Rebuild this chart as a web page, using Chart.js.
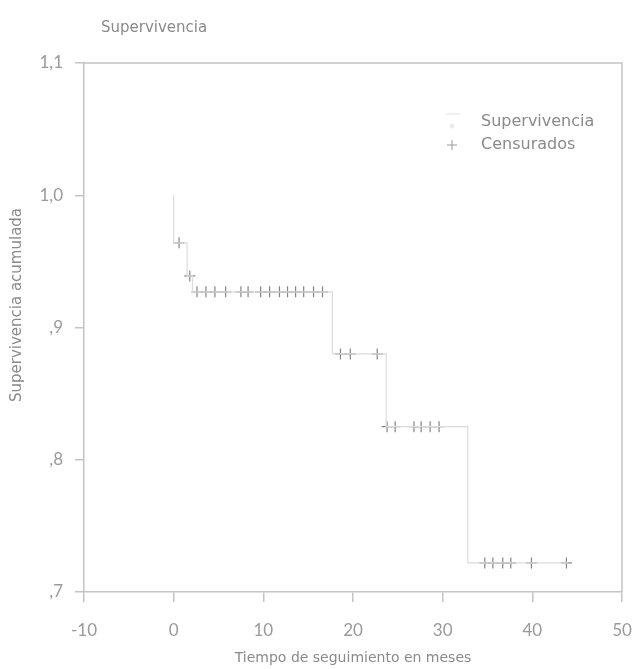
<!DOCTYPE html>
<html>
<head>
<meta charset="utf-8">
<script src="https://cdn.jsdelivr.net/npm/chart.js@4"></script>
<style>
  html, body { margin: 0; padding: 0; background: #fff; }
  #wrap { width: 634px; height: 669px; }
</style>
</head>
<body>
<div id="wrap"><canvas id="kmChart"></canvas></div>
<script>
// survival curve (step points)
const survTimes = [0, 0, 1.5, 2.1, 17.7, 23.7, 32.8, 44];
const survValues = [1.0, 0.964, 0.939, 0.927, 0.880, 0.825, 0.722, 0.722];

// censored cases
const censorTimes = [0.6, 1.8, 2.6, 3.6, 4.6, 5.8, 7.5, 8.3, 9.7, 10.7, 11.8, 12.7, 13.6, 14.5, 15.6, 16.6,
    18.6, 19.7, 22.7, 23.8, 24.7, 26.8, 27.6, 28.6, 29.6, 34.7, 35.6, 36.7, 37.6, 39.9, 43.8];
const censorValues = [0.964, 0.939, 0.927, 0.927, 0.927, 0.927, 0.927, 0.927, 0.927, 0.927, 0.927, 0.927, 0.927, 0.927, 0.927, 0.927,
    0.880, 0.880, 0.880, 0.825, 0.825, 0.825, 0.825, 0.825, 0.825, 0.722, 0.722, 0.722, 0.722, 0.722, 0.722];

const legendLabels = ["Supervivencia", "Censurados"];
const chartTitle = "Supervivencia";
const xTitle = "Tiempo de seguimiento en meses";
const yTitle = "Supervivencia acumulada";

const FONT = "'DejaVu Sans', sans-serif";
const TICKFONT = "Lato, 'DejaVu Sans', sans-serif";

function yLabel(v) {
    let r = Math.round(v * 10);
    if (r >= 10) return "1," + (r - 10);
    return "," + r;
}

// frame, title, y title and in-plot legend
const decor = {
    id: 'decor',
    afterDraw(chart) {
        let ctx = chart.ctx;
        let a = chart.chartArea;
        ctx.save();
        ctx.strokeStyle = '#c4c4c4';
        ctx.lineWidth = 1.5;
        ctx.beginPath();
        ctx.moveTo(a.left, a.top);
        ctx.lineTo(a.right, a.top);
        ctx.lineTo(a.right, a.bottom);
        ctx.stroke();

        ctx.fillStyle = '#8a8a8a';
        ctx.textBaseline = 'middle';
        ctx.textAlign = 'left';
        ctx.font = "15px " + FONT;
        ctx.fillText(chartTitle, 101, 28);

        ctx.font = "16px " + FONT;
        ctx.fillText(legendLabels[0], 481, 122);
        ctx.fillText(legendLabels[1], 481, 145);

        ctx.save();
        ctx.translate(17, 305);
        ctx.rotate(-Math.PI / 2);
        ctx.textAlign = 'center';
        ctx.font = "15px " + FONT;
        ctx.fillText(yTitle, 0, 0);
        ctx.restore();

        ctx.strokeStyle = '#e2e2e2';
        ctx.lineWidth = 1;
        ctx.beginPath();
        ctx.moveTo(446, 114);
        ctx.lineTo(460, 114);
        ctx.stroke();
        ctx.fillStyle = '#ececec';
        ctx.beginPath();
        ctx.arc(452, 126, 2.5, 0, Math.PI * 2);
        ctx.fill();

        ctx.strokeStyle = '#9a9a9a';
        ctx.beginPath();
        ctx.moveTo(447, 145);
        ctx.lineTo(457, 145);
        ctx.moveTo(452, 140);
        ctx.lineTo(452, 150);
        ctx.stroke();
        ctx.restore();
    }
};

let ctxK = document.getElementById("kmChart").getContext('2d');
let kmChart = new Chart(ctxK, {
    type: 'scatter',
    data: {
        datasets: [{
            label: legendLabels[0],
            type: 'line',
            data: survTimes.map((t, i) => ({x: t, y: survValues[i]})),
            stepped: 'before',
            borderColor: '#dcdcdc',
            borderWidth: 1.2,
            pointRadius: 0,
            fill: false
        }, {
            label: legendLabels[1],
            data: censorTimes.map((t, i) => ({x: t, y: censorValues[i]})),
            pointStyle: 'cross',
            pointRadius: 5.5,
            borderColor: '#858585',
            backgroundColor: '#858585',
            borderWidth: 1.2
        }]
    },
    options: {
        responsive: true,
        maintainAspectRatio: false,
        animation: false,
        layout: { padding: { top: 63, right: 0, bottom: 2, left: 0 } },
        plugins: {
            legend: { display: false },
            tooltip: { enabled: false }
        },
        scales: {
            x: {
                type: 'linear',
                min: -10,
                max: 50,
                ticks: {
                    stepSize: 10,
                    color: '#9a9a9a',
                    font: { family: TICKFONT, size: 17 },
                    padding: 18
                },
                grid: { drawOnChartArea: false, color: '#c4c4c4', tickLength: 10, lineWidth: 1.5 },
                border: { color: '#c4c4c4', width: 1.5 },
                title: {
                    display: true,
                    text: xTitle,
                    color: '#8a8a8a',
                    font: { family: FONT, size: 14 },
                    padding: { top: 0, bottom: 0 }
                },
                afterFit(s) { s.height = 75; s.paddingRight = 12; }
            },
            y: {
                min: 0.7,
                max: 1.1,
                ticks: {
                    stepSize: 0.1,
                    color: '#9a9a9a',
                    font: { family: TICKFONT, size: 17 },
                    padding: 12,
                    callback: v => yLabel(v)
                },
                grid: { drawOnChartArea: false, color: '#c4c4c4', tickLength: 9, lineWidth: 1.5 },
                border: { color: '#c4c4c4', width: 1.5 },
                afterFit(s) { s.width = 84; }
            }
        }
    },
    plugins: [decor]
});
</script>
</body>
</html>
